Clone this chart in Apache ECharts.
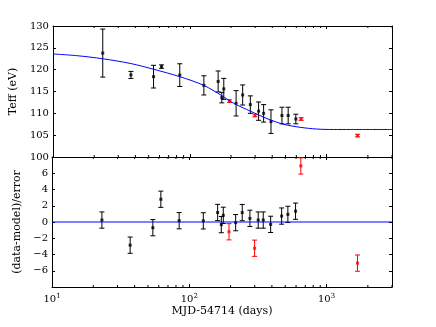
<!DOCTYPE html>
<html>
<head>
<meta charset="utf-8">
<script src="https://cdn.jsdelivr.net/npm/echarts@6/dist/echarts.min.js"></script>
<style>
  html, body { margin: 0; padding: 0; background: #fff; }
  #chart { width: 436px; height: 327px; }
</style>
</head>
<body>
<div id="chart"></div>
<script>
// black points: days, Teff (eV), error, residual
const blkDays = [23.1, 37.1, 54.3, 62.1, 84.4, 126.6, 161, 171.2, 177, 217.8, 243.2, 276.6, 318, 346, 391.7, 471, 523, 595];
const blkTeff = [123.8, 118.8, 118.4, 120.7, 118.75, 116.4, 117.3, 113.6, 115.6, 112.3, 114.2, 112.0, 110.5, 110.0, 108.1, 109.5, 109.5, 108.7];
const blkErr = [5.5, 0.8, 2.6, 0.4, 2.6, 2.2, 2.4, 1.2, 2.4, 2.9, 2.3, 2.0, 2.1, 2.0, 2.7, 1.9, 1.9, 1.1];
const blkResid = [0.24, -2.85, -0.7, 2.8, 0.16, 0.14, 1.17, -0.32, 0.82, -0.08, 1.16, 0.45, 0.24, 0.24, -0.29, 0.73, 0.94, 1.33];

// red points
const redDays = [194.8, 299.3, 650, 1681];
const redTeff = [112.8, 109.5, 108.7, 104.9];
const redErr = [0.3, 0.3, 0.3, 0.3];
const redResid = [-1.2, -3.23, 6.9, -5.06];

const residErr = 1;

// model curve
const modelDays = [10, 15, 23.1, 37.1, 54.3, 84.4, 126.6, 172, 209, 277, 366, 483, 640, 845, 1117, 1500, 3000];
const modelTeff = [123.6, 123.2, 122.5, 121.4, 120.1, 118.4, 116.4, 114.0, 112.3, 110.5, 108.8, 107.5, 106.8, 106.4, 106.3, 106.3, 106.3];

const minorTicks = [20, 30, 40, 50, 60, 70, 80, 90, 200, 300, 400, 500, 600, 700, 800, 900, 2000, 3000];

const FONT = 'DejaVu Serif';
const topY = [100, 130];
const botY = [-8, 8];

const chart = echarts.init(document.getElementById('chart'));

function errItems(xs, ys, es) {
  return xs.map((x, i) => [x, ys[i] - es[i], ys[i] + es[i]]);
}

function errRenderer(color) {
  return function (params, api) {
    const x = api.value(0);
    const p1 = api.coord([x, api.value(1)]);
    const p2 = api.coord([x, api.value(2)]);
    const c = 2.5;
    const style = { stroke: color, lineWidth: 1, fill: null };
    return {
      type: 'group',
      children: [
        { type: 'line', shape: { x1: p1[0], y1: p1[1], x2: p2[0], y2: p2[1] }, style },
        { type: 'line', shape: { x1: p1[0] - c, y1: p1[1], x2: p1[0] + c, y2: p1[1] }, style },
        { type: 'line', shape: { x1: p2[0] - c, y1: p2[1], x2: p2[0] + c, y2: p2[1] }, style },
      ],
    };
  };
}

function minorRenderer(yr) {
  return function (params, api) {
    const v = api.value(0);
    const a = api.coord([v, yr[0]]);
    const b = api.coord([v, yr[1]]);
    const style = { stroke: '#000', lineWidth: 1 };
    return {
      type: 'group',
      children: [
        { type: 'line', shape: { x1: a[0], y1: a[1], x2: a[0], y2: a[1] - 2 }, style },
        { type: 'line', shape: { x1: b[0], y1: b[1], x2: b[0], y2: b[1] + 2 }, style },
      ],
    };
  };
}

function powLabel(v) {
  const n = Math.round(Math.log10(v));
  if (Math.abs(Math.log10(v) - n) > 1e-6) return '';
  return '10{sup|' + n + '}';
}

const tick = { show: true, inside: true, length: 3, lineStyle: { color: '#000' } };
const line = { show: true, onZero: false, lineStyle: { color: '#000', width: 1 } };

function xAx(grid, pos, labels) {
  return {
    type: 'log', logBase: 10, min: 10, max: 3000, splitNumber: 3,
    gridIndex: grid, position: pos,
    axisLine: line, axisTick: tick, splitLine: { show: false },
    axisLabel: labels ? {
      show: true, margin: 6, formatter: powLabel,
      fontFamily: FONT, fontSize: 10, color: '#000',
      rich: { sup: { fontFamily: FONT, fontSize: 7, color: '#000', verticalAlign: 'top', padding: [0, 0, 6, 0] } },
    } : { show: false },
    name: labels ? 'MJD-54714 (days)' : '',
    nameLocation: 'middle', nameGap: 19,
    nameTextStyle: { fontFamily: FONT, fontSize: 11, color: '#000' },
  };
}

function yAx(grid, pos, yr, step, name, fmt) {
  return {
    type: 'value', min: yr[0], max: yr[1], interval: step,
    gridIndex: grid, position: pos,
    axisLine: line, axisTick: tick, splitLine: { show: false },
    axisLabel: fmt ? { show: true, margin: 4, formatter: fmt, fontFamily: FONT, fontSize: 10, color: '#000' } : { show: false },
    name: name || '', nameLocation: 'middle', nameGap: 25, nameRotate: 90,
    nameTextStyle: { fontFamily: FONT, fontSize: 11, color: '#000' },
  };
}

chart.setOption({
  animation: false,
  backgroundColor: '#fff',
  grid: [
    { left: 52, top: 26, width: 340, height: 131 },
    { left: 52, top: 157, width: 340, height: 130 },
  ],
  xAxis: [
    xAx(0, 'bottom', false),
    xAx(0, 'top', false),
    xAx(1, 'bottom', true),
    xAx(1, 'top', false),
  ],
  yAxis: [
    yAx(0, 'left', topY, 5, 'Teff (eV)', (v) => String(v)),
    yAx(0, 'right', topY, 5),
    yAx(1, 'left', botY, 2, '(data-model)/error', (v) => (Math.abs(v) === 8 ? '' : String(v).replace('-', '\u2212'))),
    yAx(1, 'right', botY, 2),
  ],
  series: [
    {
      type: 'custom', xAxisIndex: 0, yAxisIndex: 0, silent: true, clip: false,
      renderItem: minorRenderer(topY), data: minorTicks.map((v) => [v, topY[0]]),
    },
    {
      type: 'custom', xAxisIndex: 2, yAxisIndex: 2, silent: true, clip: false,
      renderItem: minorRenderer(botY), data: minorTicks.map((v) => [v, botY[0]]),
    },
    {
      type: 'line', xAxisIndex: 0, yAxisIndex: 0, smooth: 0.3, showSymbol: false,
      lineStyle: { color: '#0000ff', width: 1 },
      data: modelDays.map((d, i) => [d, modelTeff[i]]),
    },
    {
      type: 'line', xAxisIndex: 2, yAxisIndex: 2, showSymbol: false,
      lineStyle: { color: '#0000ff', width: 1 },
      data: [[10, 0], [3000, 0]],
    },
    {
      type: 'custom', xAxisIndex: 0, yAxisIndex: 0, silent: true,
      renderItem: errRenderer('#000'), data: errItems(blkDays, blkTeff, blkErr),
    },
    {
      type: 'custom', xAxisIndex: 0, yAxisIndex: 0, silent: true,
      renderItem: errRenderer('#ff0000'), data: errItems(redDays, redTeff, redErr),
    },
    {
      type: 'custom', xAxisIndex: 2, yAxisIndex: 2, silent: true,
      renderItem: errRenderer('#000'), data: errItems(blkDays, blkResid, blkDays.map(() => residErr)),
    },
    {
      type: 'custom', xAxisIndex: 2, yAxisIndex: 2, silent: true,
      renderItem: errRenderer('#ff0000'), data: errItems(redDays, redResid, redDays.map(() => residErr)),
    },
    {
      type: 'scatter', xAxisIndex: 0, yAxisIndex: 0, symbol: 'rect', symbolSize: 3,
      itemStyle: { color: '#000' }, data: blkDays.map((d, i) => [d, blkTeff[i]]),
    },
    {
      type: 'scatter', xAxisIndex: 0, yAxisIndex: 0, symbol: 'rect', symbolSize: 3,
      itemStyle: { color: '#ff0000' }, data: redDays.map((d, i) => [d, redTeff[i]]),
    },
    {
      type: 'scatter', xAxisIndex: 2, yAxisIndex: 2, symbol: 'rect', symbolSize: 3,
      itemStyle: { color: '#000' }, data: blkDays.map((d, i) => [d, blkResid[i]]),
    },
    {
      type: 'scatter', xAxisIndex: 2, yAxisIndex: 2, symbol: 'rect', symbolSize: 3,
      itemStyle: { color: '#ff0000' }, data: redDays.map((d, i) => [d, redResid[i]]),
    },
  ],
});
</script>
</body>
</html>
